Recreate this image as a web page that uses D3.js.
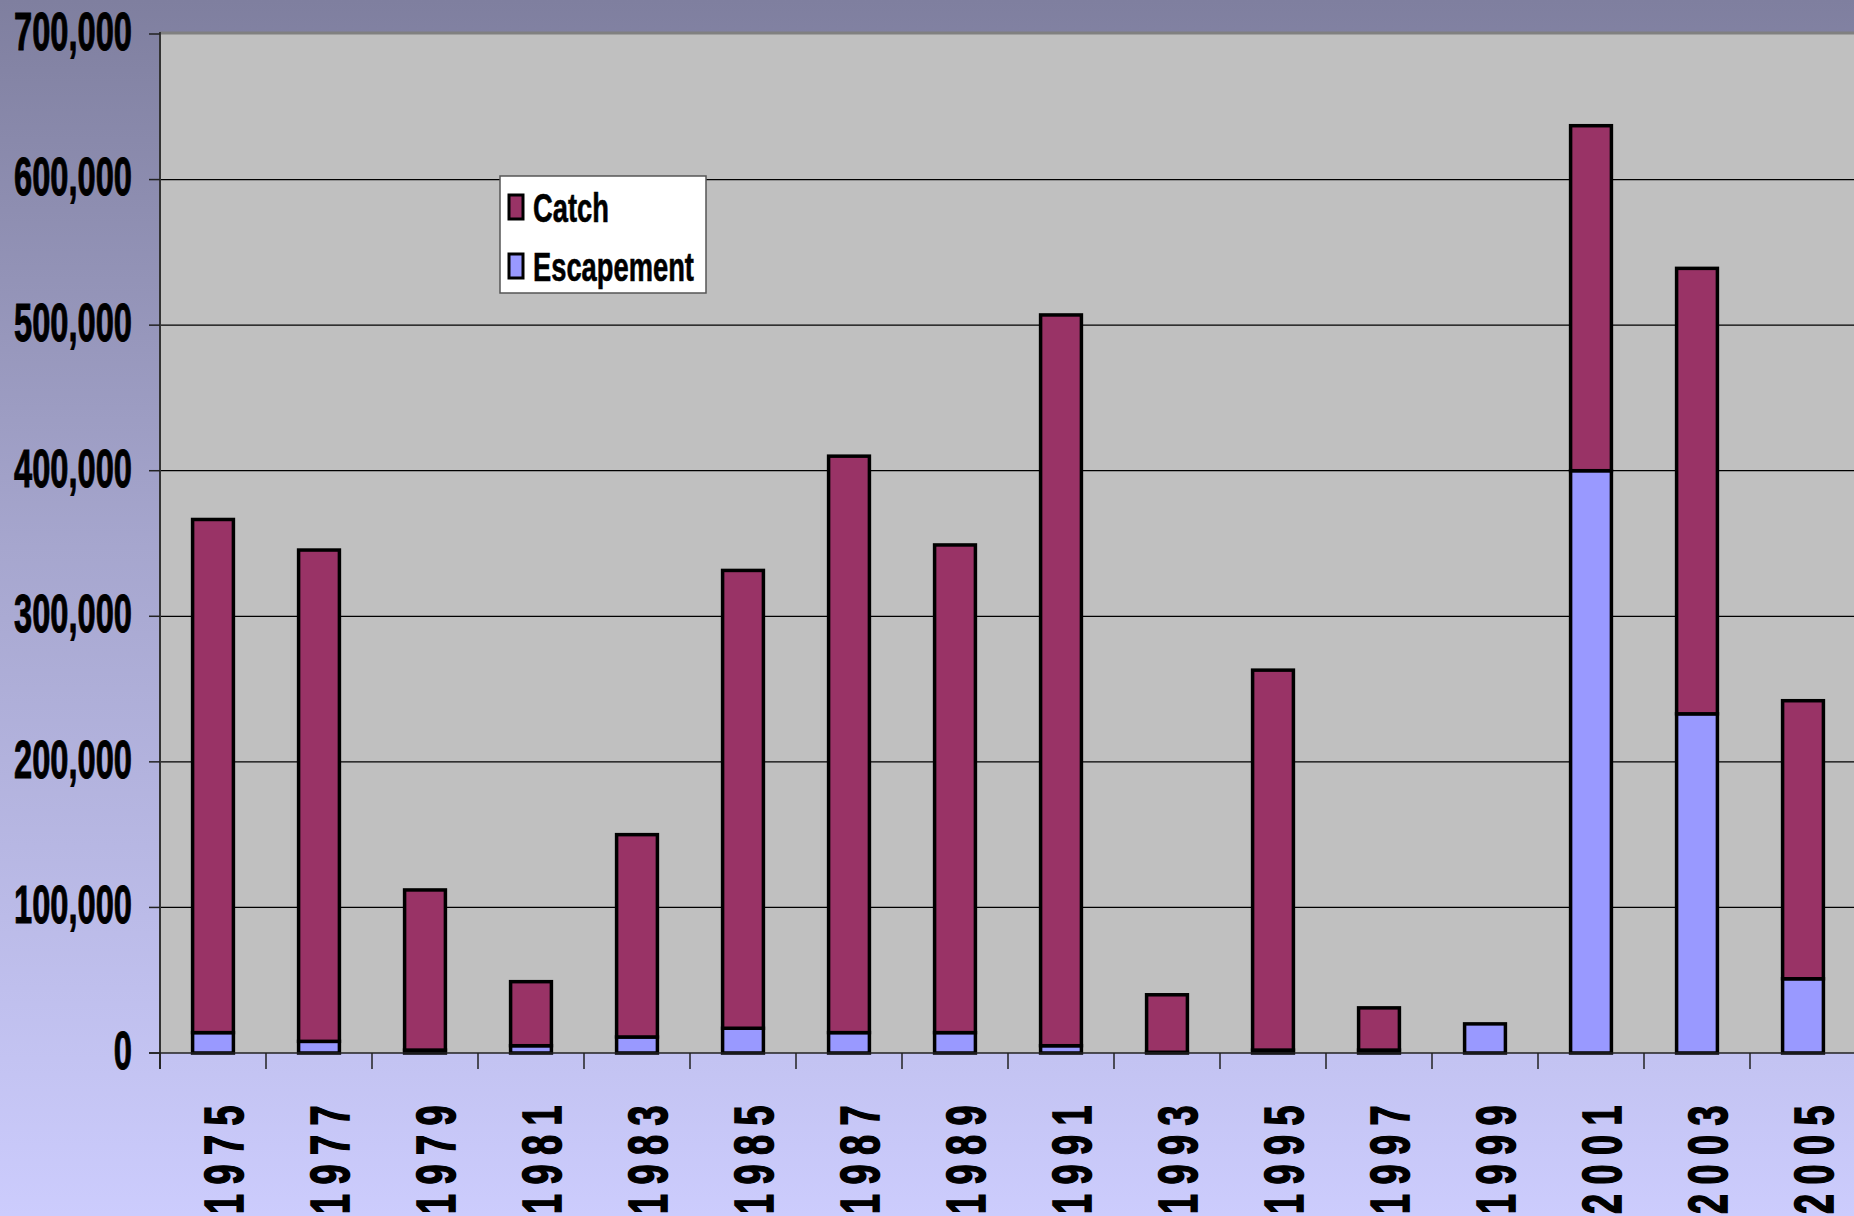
<!DOCTYPE html>
<html><head><meta charset="utf-8">
<script src="https://cdn.jsdelivr.net/npm/d3@7"></script>
<style>html,body{margin:0;padding:0;overflow:hidden;background:#fff}svg{display:block}</style>
</head><body>
<svg id="chart" width="1854" height="1216"></svg>
<script>
const years = ["1975","1977","1979","1981","1983","1985","1987","1989","1991","1993","1995","1997","1999","2001","2003","2005"];
const escapementValues = [14000, 8000, 2000, 5000, 11000, 17000, 14000, 14000, 5000, 500, 2000, 2000, 20000, 400000, 233000, 51000];
const catchValues = [352500, 337500, 110000, 44000, 139000, 314500, 396000, 335000, 502000, 39500, 261000, 29000, 0, 237000, 306000, 191000];
const yTickValues = [0, 100000, 200000, 300000, 400000, 500000, 600000, 700000];
const seriesNames = ["Catch", "Escapement"];
const seriesColors = {"Catch": "#993366", "Escapement": "#9999FF"};

(function(){
const W = 1854, H = 1216;
const pLeft = 160, pTop = 34, pBottom = 1053, pRight = 1856;
const svg = d3.select("#chart");
const FONT = "'Liberation Sans Narrow','Arial Narrow','Liberation Sans',Arial,sans-serif";

const defs = svg.append("defs");
const grad = defs.append("linearGradient").attr("id","bg").attr("x1",0).attr("y1",0).attr("x2",0).attr("y2",1);
grad.append("stop").attr("offset","0%").attr("stop-color","#7F7F9F");
grad.append("stop").attr("offset","45%").attr("stop-color","#A6A6CE");
grad.append("stop").attr("offset","100%").attr("stop-color","#CCCCFD");
svg.append("rect").attr("width",W).attr("height",H).attr("fill","url(#bg)");
defs.append("clipPath").attr("id","plotclip").append("rect").attr("x",pLeft).attr("y",pTop-4).attr("width",W-pLeft).attr("height",pBottom-pTop+30);

const x = d3.scaleBand().domain(years).range([pLeft, pRight]).paddingInner(0).paddingOuter(0);
const y = d3.scaleLinear().domain([0, 700000]).range([pBottom, pTop]);

svg.append("rect").attr("x",pLeft).attr("y",pTop).attr("width",W-pLeft).attr("height",pBottom-pTop).attr("fill","#C0C0C0");

svg.append("g").selectAll("line").data(yTickValues.filter(v=>v>0 && v<700000)).join("line")
  .attr("x1",pLeft).attr("x2",W).attr("y1",d=>y(d)).attr("y2",d=>y(d))
  .attr("stroke","#000").attr("stroke-width",1.2);
svg.append("line").attr("x1",pLeft).attr("x2",W).attr("y1",pTop-1).attr("y2",pTop-1).attr("stroke","#808080").attr("stroke-width",3);

const rows = years.map((yr,i)=>({year:yr, Escapement:escapementValues[i], Catch:catchValues[i]}));
const stacked = d3.stack().keys(["Escapement","Catch"])(rows);
const barW = x.bandwidth()*0.385;
const gBars = svg.append("g").attr("clip-path","url(#plotclip)");
stacked.forEach(layer=>{
  gBars.append("g").selectAll("rect").data(layer.filter(d=>d[1]-d[0]>0)).join("rect")
    .attr("x",d=>x(d.data.year)+x.bandwidth()/2-barW/2)
    .attr("width",barW)
    .attr("y",d=>y(d[1]))
    .attr("height",d=>y(d[0])-y(d[1]))
    .attr("fill",seriesColors[layer.key])
    .attr("stroke","#000").attr("stroke-width",3.5);
});

svg.append("line").attr("x1",pLeft).attr("x2",pLeft).attr("y1",pTop-2).attr("y2",pBottom+16).attr("stroke","#333").attr("stroke-width",2);
svg.append("line").attr("x1",pLeft-11).attr("x2",W).attr("y1",pBottom).attr("y2",pBottom).attr("stroke","#222").attr("stroke-width",1.5);

svg.append("g").selectAll("line").data(yTickValues).join("line")
  .attr("x1",pLeft-11).attr("x2",pLeft).attr("y1",d=>y(d)).attr("y2",d=>y(d)).attr("stroke","#222").attr("stroke-width",1.5);
svg.append("g").selectAll("line").data(years).join("line")
  .attr("x1",d=>x(d)).attr("x2",d=>x(d)).attr("y1",pBottom).attr("y2",pBottom+16).attr("stroke","#222").attr("stroke-width",1.5);

const fmt = d3.format(",");
const yl = svg.append("g").selectAll("text").data(yTickValues).join("text")
  .attr("text-anchor","end").attr("font-family",FONT).attr("font-weight","bold").attr("font-size",54)
  .attr("dy","0.33em").attr("fill","#000").attr("stroke","#000").attr("stroke-width",1).text(d=>fmt(d));
let w7 = 0; yl.each(function(d){ if(d===700000) w7=this.getComputedTextLength(); });
const ys = 118 / w7;
yl.attr("transform",d=>`translate(132,${y(d)-2}) scale(${ys},1)`);

const xl = svg.append("g").selectAll("text").data(years).join("text")
  .attr("font-family",FONT).attr("font-weight","bold").attr("font-size",56).attr("fill","#000")
  .attr("stroke","#000").attr("stroke-width",1.6)
  .attr("text-anchor","start").text(d=>d);
let wy = 0; xl.each(function(){ wy = Math.max(wy, this.getComputedTextLength()); });
const adv = wy/4;
const xs = 20/adv;
const ls = (29.5-20)/xs;
xl.attr("letter-spacing",ls)
  .attr("transform",d=>`translate(${x(d)+x.bandwidth()/2+30},1214) rotate(-90) scale(${xs},1)`);

const lg = svg.append("g");
lg.append("rect").attr("x",500).attr("y",176).attr("width",206).attr("height",117).attr("fill","#fff").attr("stroke","#555").attr("stroke-width",1.5);
const legY = [195, 254];
const lt = lg.selectAll("g.item").data(seriesNames).join("g").attr("class","item");
lt.append("rect").attr("x",509).attr("y",(d,i)=>legY[i]).attr("width",14).attr("height",24)
  .attr("fill",d=>seriesColors[d]).attr("stroke","#000").attr("stroke-width",3);
const ltx = lt.append("text").attr("font-family",FONT).attr("font-weight","bold").attr("font-size",41).attr("fill","#000")
  .attr("stroke","#000").attr("stroke-width",0.6).text(d=>d);
let we = 0; ltx.each(function(d){ if(d==="Escapement") we=this.getComputedTextLength(); });
const ls2 = 161/we;
ltx.attr("transform",(d,i)=>`translate(533,${legY[i]+27}) scale(${ls2},1)`);
})();
</script>
</body></html>
